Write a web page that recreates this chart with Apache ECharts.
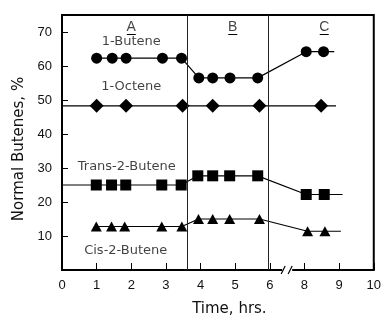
<!DOCTYPE html>
<html><head><meta charset="utf-8">
<script src="https://cdn.jsdelivr.net/npm/echarts@6/dist/echarts.min.js"></script>
<style>html,body{margin:0;padding:0;background:#fff}#c{width:384px;height:322px}</style>
</head><body><div id="c"></div>
<script>
// Time axis is broken between 6 and 8 hrs; tick labels per axis slot
const xTickLabels = ['0','1','2','3','4','5','6','8','9','10'];
const yTickValues = [10,20,30,40,50,60,70];

// 1-Butene
const butene1Hours  = [1.0, 1.45, 1.85, 2.9, 3.45, 3.95, 4.35, 4.85, 5.65, 8.05, 8.55];
const butene1Values = [62.3, 62.3, 62.3, 62.3, 62.3, 56.5, 56.5, 56.5, 56.5, 64.2, 64.2];
const butene1LineEnd = 8.86;

// 1-Octene
const octeneHours  = [1.0, 1.85, 3.48, 4.35, 5.7, 8.48];
const octeneValues = [48.3, 48.3, 48.3, 48.3, 48.3, 48.3];
const octeneLineStart = 0;
const octeneLineEnd = 8.91;

// Trans-2-Butene
const transHours  = [0.99, 1.43, 1.84, 2.88, 3.44, 3.92, 4.35, 4.84, 5.65, 8.05, 8.57];
const transValues = [25.0, 25.0, 25.0, 25.0, 25.0, 27.7, 27.7, 27.7, 27.7, 22.2, 22.2];
const transLineStart = 0;
const transLineEnd = 9.1;

// Cis-2-Butene
const cisHours  = [0.99, 1.43, 1.81, 2.88, 3.46, 3.94, 4.35, 4.84, 5.7, 8.09, 8.59];
const cisValues = [12.8, 12.8, 12.8, 12.8, 12.8, 15.0, 15.0, 15.0, 15.0, 11.4, 11.4];
const cisLineEnd = 9.05;

// Period boundaries (hrs) and period labels
const periodBounds = [3.63, 5.95];
const periodNames = ['A', 'B', 'C'];
const periodLabelHours = [2.0, 4.93, 8.57];
const periodLabelY = 71.3;
const periodUnderlineY = 69.3;

// Curve name labels
const curveNames = ['1-Butene', '1-Octene', 'Trans-2-Butene', 'Cis-2-Butene'];
const curveLabelHours = [2.0, 2.0, 1.87, 1.84];
const curveLabelY = [67.3, 54.0, 30.3, 5.8];

function axisPos(h) { return h >= 7 ? h - 1 : h; }

function build(hours, values, start, end) {
  const d = hours.map((h, i) => [axisPos(h), values[i]]);
  if (start !== null) d.unshift({ value: [axisPos(start), values[0]], symbol: 'none' });
  if (end !== null) d.push({ value: [axisPos(end), values[values.length - 1]], symbol: 'none' });
  return d;
}

const FONT = 'Liberation Sans';
const WFONT = 'DejaVu Sans';
const chart = echarts.init(document.getElementById('c'), null, { renderer: 'canvas' });

const lineBase = {
  type: 'line', color: '#000', silent: true, animation: false,
  lineStyle: { color: '#000', width: 1.2 },
  itemStyle: { color: '#000' },
  showAllSymbol: true
};

chart.setOption({
  animation: false,
  backgroundColor: '#fff',
  grid: { left: 62, right: 9, top: 15, bottom: 50, show: true, borderColor: '#000', borderWidth: 2, backgroundColor: 'transparent' },
  xAxis: {
    type: 'value', min: 0, max: 9, interval: 1,
    name: 'Time, hrs.', nameLocation: 'middle', nameGap: 32,
    nameTextStyle: { fontFamily: WFONT, fontSize: 15, color: '#111', padding: [0, 0, 0, 23] },
    axisLine: { show: false },
    axisTick: { inside: true, length: 7, lineStyle: { color: '#000', width: 1 } },
    axisLabel: { margin: 9, fontFamily: FONT, fontSize: 13, color: '#111', formatter: v => xTickLabels[v] ?? '' },
    splitLine: { show: false }
  },
  yAxis: {
    type: 'value', min: 0, max: 75, interval: 10,
    name: 'Normal Butenes, %', nameLocation: 'middle', nameGap: 33,
    nameTextStyle: { fontFamily: WFONT, fontSize: 15, color: '#111', padding: [0, 13, 0, 0] },
    axisLine: { show: false },
    axisTick: { inside: true, length: 6, lineStyle: { color: '#000', width: 1 } },
    axisLabel: { margin: 10, fontFamily: FONT, fontSize: 13, color: '#111', formatter: v => yTickValues.includes(v) ? String(v) : '' },
    splitLine: { show: false }
  },
  series: [
    Object.assign({}, lineBase, { name: '1-Butene', symbol: 'circle', symbolSize: 11, data: build(butene1Hours, butene1Values, null, butene1LineEnd) }),
    Object.assign({}, lineBase, { name: '1-Octene', symbol: 'diamond', symbolSize: [14, 14], data: build(octeneHours, octeneValues, octeneLineStart, octeneLineEnd) }),
    Object.assign({}, lineBase, { name: 'Trans-2-Butene', symbol: 'rect', symbolSize: 11, data: build(transHours, transValues, transLineStart, transLineEnd) }),
    Object.assign({}, lineBase, { name: 'Cis-2-Butene', symbol: 'triangle', symbolSize: [11, 10], data: build(cisHours, cisValues, null, cisLineEnd) }),
    {
      type: 'scatter', silent: true, symbolSize: 0, animation: false,
      data: curveNames.map((n, i) => ({ name: n, value: [axisPos(curveLabelHours[i]), curveLabelY[i]] }))
        .concat(periodNames.map((n, i) => ({ name: n, value: [axisPos(periodLabelHours[i]), periodLabelY], label: { fontFamily: FONT, fontSize: 14 } }))),
      label: { show: true, position: 'inside', formatter: p => p.name, fontFamily: WFONT, fontSize: 13, color: '#111' },
      markLine: {
        silent: true, symbol: ['none', 'none'], animation: false,
        label: { show: false },
        lineStyle: { color: '#000', width: 1, type: 'solid' },
        data: periodBounds.map(b => ({ xAxis: axisPos(b), lineStyle: { color: '#222', width: 1 } }))
          .concat(periodLabelHours.map(h => [
            { coord: [axisPos(h) - 0.13, periodUnderlineY] },
            { coord: [axisPos(h) + 0.13, periodUnderlineY] }
          ]))
      }
    }
  ]
});

// axis break mark "//" between 6 and 8 hrs
const bp = chart.convertToPixel({ gridIndex: 0 }, [6.5, 0]);
chart.setOption({
  graphic: [
    { type: 'rect', z: 100, shape: { x: bp[0] - 5, y: bp[1] - 2, width: 10, height: 4 }, style: { fill: '#fff' } },
    { type: 'line', z: 101, shape: { x1: bp[0] - 6, y1: bp[1] + 4, x2: bp[0] - 2, y2: bp[1] - 4 }, style: { stroke: '#000', lineWidth: 1.2 } },
    { type: 'line', z: 101, shape: { x1: bp[0] + 1, y1: bp[1] + 4, x2: bp[0] + 5, y2: bp[1] - 4 }, style: { stroke: '#000', lineWidth: 1.2 } }
  ]
});
</script>
</body></html>
